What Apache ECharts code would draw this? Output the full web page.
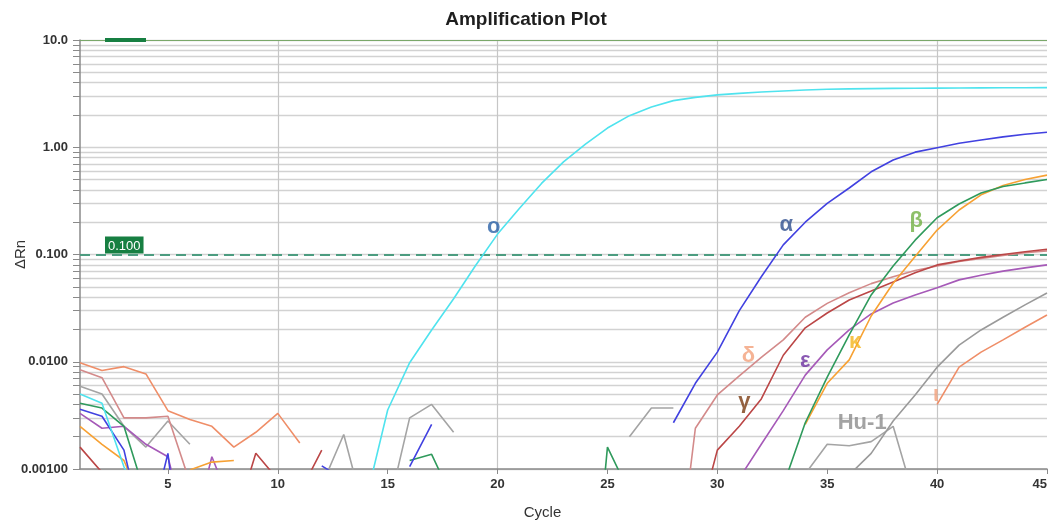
<!DOCTYPE html>
<html><head><meta charset="utf-8">
<script src="https://cdn.jsdelivr.net/npm/echarts@6/dist/echarts.min.js"></script>
<style>html,body{margin:0;padding:0;background:#fff}#c{width:1052px;height:525px}</style>
</head><body><div id="c"></div>
<script>
const _ = null;
const cycles = [1,2,3,4,5,6,7,8,9,10,11,12,13,14,15,16,17,18,19,20,21,22,23,24,25,26,27,28,29,30,31,32,33,34,35,36,37,38,39,40,41,42,43,44,45];
const xTickLabels = [5,10,15,20,25,30,35,40,45];
const xGridValues = [10,20,30,40];
const yDecades = [0.001,0.01,0.1,1,10];
const threshold = 0.1;

const omicron = [0.0050,0.0041,0.00105,0.0004,_,_,_,_,_,_,_,_,_,0.0005,0.00355,0.0098,0.0198,0.0387,0.079,0.155,0.27,0.46,0.73,1.07,1.51,1.97,2.37,2.72,2.92,3.08,3.18,3.27,3.35,3.42,3.47,3.50,3.52,3.54,3.55,3.56,3.57,3.58,3.59,3.59,3.60];
const alpha = [0.0036,0.0031,0.0015,0.0002,0.0014,0.00003,_,_,_,_,_,0.00107,0.0008,_,_,0.00105,0.0026,_,_,_,_,_,_,_,_,_,_,0.0027,0.0063,0.0123,0.030,0.062,0.123,0.20,0.30,0.417,0.59,0.76,0.90,0.99,1.09,1.17,1.25,1.32,1.38];
const beta = [0.0041,0.0037,0.0025,0.00055,_,_,_,_,_,_,_,_,_,_,_,0.0012,0.00137,0.0005,_,_,_,_,_,0.00001,0.0016,0.0006,_,_,_,_,_,_,0.0007,0.0027,0.0072,0.0178,0.042,0.078,0.136,0.22,0.296,0.374,0.43,0.465,0.50];
const kappa = [0.0025,0.0017,0.0012,0.0004,_,0.00098,0.00116,0.0012,_,_,_,_,_,_,_,_,_,_,_,_,_,_,_,_,_,_,_,_,_,_,_,_,_,0.0026,0.0063,0.0104,0.0267,0.054,0.096,0.169,0.26,0.36,0.44,0.50,0.55];
const gamma = [0.0016,0.00093,_,_,_,_,_,0.0003,0.0014,0.0008,0.0006,0.0015,_,_,_,_,_,_,_,_,_,_,_,_,_,_,_,_,0.00025,0.0015,0.0025,0.0045,0.0115,0.0207,0.0285,0.0377,0.0457,0.0555,0.0675,0.080,0.087,0.094,0.100,0.106,0.112];
const delta = [0.0084,0.0071,0.0030,0.0030,0.0031,0.00075,_,_,_,_,_,_,_,_,_,_,_,_,_,_,_,_,_,_,_,_,_,0.00005,0.0024,0.0049,0.0074,0.011,0.016,0.026,0.035,0.044,0.0535,0.062,0.071,0.078,0.086,0.092,0.098,0.104,0.108];
const epsilon = [0.0033,0.0024,0.0025,0.0017,0.0013,0.0002,0.0013,0.0004,_,_,_,_,_,_,_,_,_,_,_,_,_,_,_,_,_,_,_,_,_,_,0.00082,0.0017,0.0035,0.0075,0.0129,0.0198,0.0279,0.0353,0.042,0.049,0.058,0.064,0.070,0.075,0.080];
const iota = [0.0098,0.0083,0.0090,0.0077,0.0035,0.0029,0.0025,0.0016,0.0022,0.0033,0.00175,_,_,_,_,_,_,_,_,_,_,_,_,_,_,_,_,_,_,_,_,_,_,_,_,_,_,_,_,0.0040,0.0089,0.0123,0.016,0.021,0.0273];
const hu1 = [_,_,_,_,_,_,_,_,_,_,_,_,_,_,_,_,_,_,_,_,_,_,_,_,_,_,_,_,_,_,_,_,_,_,_,0.00088,0.0014,0.0028,0.0049,0.0089,0.0143,0.0198,0.026,0.0339,0.0437];
const ntc = [0.0059,0.0050,0.0025,0.0016,0.0028,0.0017,_,_,_,_,_,0.0007,0.0021,0.00035,0.0004,0.0030,0.0040,0.0022,_,_,_,_,_,_,_,0.0020,0.0037,0.0037,_,_,_,_,_,0.0009,0.0017,0.00165,0.0018,0.0025,0.0005,_,_,_,_,_,_];

const curveNames = ['ntc','iota','delta','gamma','epsilon','kappa','beta','hu1','alpha','omicron'];
const curveValues = [ntc, iota, delta, gamma, epsilon, kappa, beta, hu1, alpha, omicron];
const curveColors = ['#a4a4a4','#ef8e68','#d38a8a','#bb4646','#a65ab8','#f7a133','#2f9a5c','#9a9a9a','#4141e0','#4fe3ee'];

const labelTexts = ['ο','α','β','δ','ε','κ','γ','Hu-1','ι'];
const labelCycles = [19.82,33.14,39.05,31.41,34.0,36.27,31.23,36.59,39.95];
const labelValues = [0.180,0.188,0.205,0.0113,0.0102,0.0153,0.00422,0.00269,0.0049];
const labelColors = ['#2a62a8','#2f4f8f','#72b043','#f2a07a','#6d2fa0','#f4b41a','#7b3b12','#8c8c8c','#f2a07a'];

const yMinorValues = [];
for (let i = 0; i < yDecades.length - 1; i++) {
  for (let k = 1; k <= 9; k++) yMinorValues.push(Math.log10(k * yDecades[i]));
}
yMinorValues.push(Math.log10(yDecades[yDecades.length - 1]));

const FONT = '"Liberation Sans", Arial, sans-serif';

const series = curveValues.map((vals, si) => ({
  name: curveNames[si],
  type: 'line',
  xAxisIndex: 0, yAxisIndex: 0,
  data: cycles.map((c, i) => vals[i] == null ? [c, '-'] : [c, vals[i]]),
  symbol: 'none',
  connectNulls: false,
  clip: true,
  lineStyle: { color: curveColors[si], width: 1.6 },
  itemStyle: { color: curveColors[si] },
  silent: true,
  z: 3 + si
}));

series[0].markLine = {
  silent: true,
  symbol: 'none',
  animation: false,
  data: [
    { yAxis: threshold,
      lineStyle: { color: '#4c9c80', type: [10, 6], width: 1.8 },
      label: { show: true, formatter: '0.100', position: 'insideStartTop', distance: [25, 1],
               backgroundColor: '#177f42', color: '#ffffff', fontSize: 13, fontFamily: FONT,
               padding: [3, 3, 1, 3] } },
    { yAxis: yDecades[yDecades.length - 1],
      lineStyle: { color: '#7aa86a', type: 'solid', width: 1.2 },
      label: { show: false } }
  ]
};

series.push({
  type: 'scatter',
  xAxisIndex: 0, yAxisIndex: 0,
  symbolSize: 1,
  itemStyle: { color: 'rgba(0,0,0,0)' },
  silent: true,
  z: 20,
  data: labelTexts.map((t, i) => ({
    value: [labelCycles[i], labelValues[i]],
    label: { show: true, position: 'inside', formatter: t, color: labelColors[i],
             fontSize: 22, fontWeight: 'bold', fontFamily: FONT }
  }))
});

const chart = echarts.init(document.getElementById('c'), null, { renderer: 'canvas' });
chart.setOption({
  animation: false,
  backgroundColor: '#ffffff',
  title: {
    text: 'Amplification Plot', left: 'center', top: 5,
    textStyle: { fontSize: 19, fontWeight: 'bold', color: '#1e1e1e', fontFamily: FONT }
  },
  grid: { left: 80, right: 5, top: 40, bottom: 56, containLabel: false, outerBoundsMode: 'none' },
  xAxis: [
    {
      type: 'value', min: 1, max: 45,
      name: 'Cycle', nameLocation: 'middle', nameGap: 36, nameMoveOverlap: false,
      nameTextStyle: { fontSize: 15, color: '#333', fontFamily: FONT, padding: [0, 42, 0, 0] },
      axisLine: { show: true, onZero: false, lineStyle: { color: '#8a8a8a', width: 1.5 } },
      axisTick: { show: true, length: 5, customValues: xTickLabels, lineStyle: { color: '#8a8a8a' } },
      axisLabel: { show: true, customValues: xTickLabels, margin: 9, fontSize: 13, fontWeight: 'bold', color: '#333', fontFamily: FONT, alignMaxLabel: 'right' },
      splitLine: { show: false }
    },
    {
      type: 'value', min: 1, max: 45, position: 'bottom',
      axisLine: { show: false, onZero: false },
      axisTick: { show: false, customValues: xGridValues },
      axisLabel: { show: false, customValues: xGridValues },
      splitLine: { show: true, lineStyle: { color: '#c6c6c6', width: 1.2 } }
    }
  ],
  yAxis: [
    {
      type: 'log', logBase: 10, min: yDecades[0], max: yDecades[yDecades.length - 1],
      name: 'ΔRn', nameLocation: 'middle', nameGap: 52, nameRotate: 90, nameMoveOverlap: false,
      nameTextStyle: { fontSize: 15, color: '#333', fontFamily: FONT },
      axisLine: { show: true, onZero: false, lineStyle: { color: '#8a8a8a', width: 1.5 } },
      axisTick: { show: false },
      axisLabel: { margin: 12, fontSize: 13, fontWeight: 'bold', color: '#333', fontFamily: FONT,
                   formatter: v => Number(v).toPrecision(3) },
      splitLine: { show: false }
    },
    {
      type: 'value', min: -3, max: 1, position: 'left',
      axisLine: { show: false, onZero: false },
      axisLabel: { show: false, customValues: yMinorValues },
      axisTick: { show: true, length: 7, customValues: yMinorValues, lineStyle: { color: '#8a8a8a', width: 1 } },
      splitLine: { show: true, lineStyle: { color: '#d2d2d2', width: 1.3 } }
    }
  ],
  graphic: [
    { type: 'rect', left: 105, top: 38, shape: { width: 41, height: 4 }, style: { fill: '#177f42' }, z: 50 }
  ],
  series: series
});
</script>
</body></html>
